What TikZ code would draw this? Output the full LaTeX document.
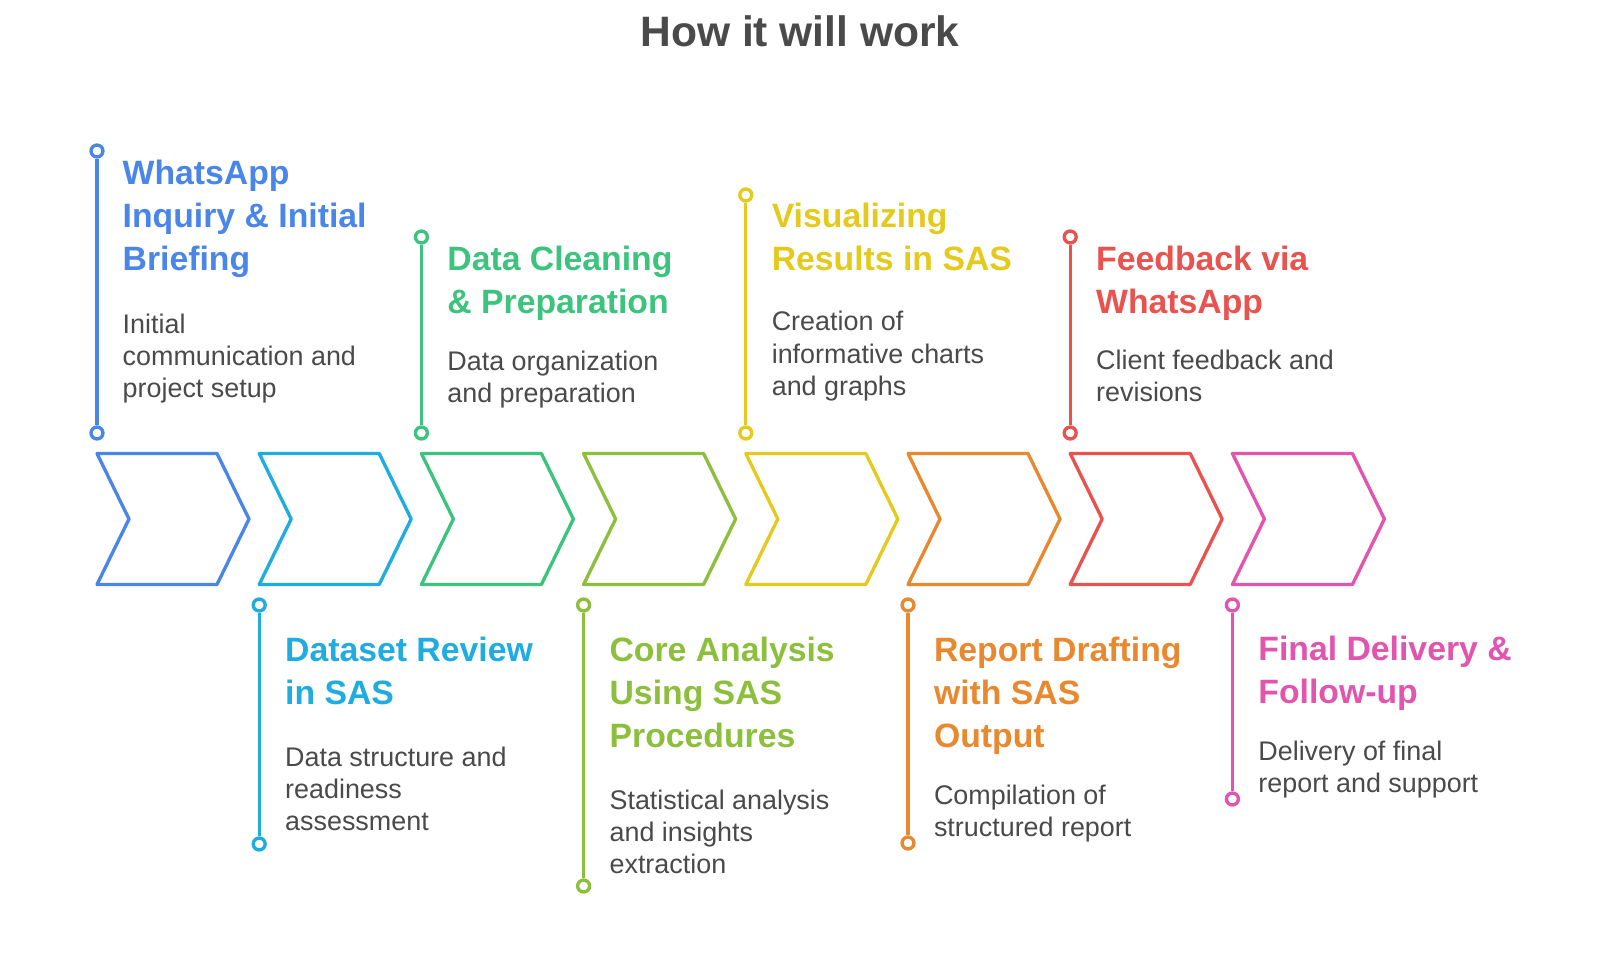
\documentclass[tikz,border=0pt]{standalone}
\usepackage{fontspec}
\setmainfont{Liberation Sans}

\definecolor{cblue}{HTML}{4A86E8}
\definecolor{ccyan}{HTML}{1FACE0}
\definecolor{cgreen}{HTML}{3CC47E}
\definecolor{clime}{HTML}{8CBF3C}
\definecolor{cyellow}{HTML}{E5CA1E}
\definecolor{corange}{HTML}{E8892F}
\definecolor{cred}{HTML}{E9534F}
\definecolor{cpink}{HTML}{E255AE}
\definecolor{textgrey}{HTML}{4A4A4A}

\tikzset{
  chevron/.style={line width=0.95pt, line join=round},
  ring/.style={circle, draw, fill=white, line width=0.95pt, minimum size=3.4pt, inner sep=0pt},
  stem/.style={line width=0.95pt},
  heading/.style={anchor=base west, align=left, inner sep=0pt, font=\fontsize{9.6}{12.2}\selectfont\bfseries},
  blurb/.style={anchor=base west, align=left, inner sep=0pt, text=textgrey, font=\fontsize{7.65}{9.1}\selectfont},
}

\begin{document}
\begin{tikzpicture}[x=0.01cm, y=-0.01cm]
\fill[white] (0,0) rectangle (1600,973);

% Title
\node[anchor=base, inner sep=0pt, text=textgrey, font=\fontsize{12.1}{14}\selectfont\bfseries] (title) at (800,47) {How it will work};

% Chevrons
\draw[chevron, cblue]   (97,453.5)   -- ++(120,0) -- ++(32,65.5) -- ++(-32,65.5) -- ++(-120,0) -- ++(32,-65.5) -- cycle;
\draw[chevron, ccyan]   (259.2,453.5) -- ++(120,0) -- ++(32,65.5) -- ++(-32,65.5) -- ++(-120,0) -- ++(32,-65.5) -- cycle;
\draw[chevron, cgreen]  (421.4,453.5) -- ++(120,0) -- ++(32,65.5) -- ++(-32,65.5) -- ++(-120,0) -- ++(32,-65.5) -- cycle;
\draw[chevron, clime]   (583.6,453.5) -- ++(120,0) -- ++(32,65.5) -- ++(-32,65.5) -- ++(-120,0) -- ++(32,-65.5) -- cycle;
\draw[chevron, cyellow] (745.8,453.5) -- ++(120,0) -- ++(32,65.5) -- ++(-32,65.5) -- ++(-120,0) -- ++(32,-65.5) -- cycle;
\draw[chevron, corange] (908,453.5)   -- ++(120,0) -- ++(32,65.5) -- ++(-32,65.5) -- ++(-120,0) -- ++(32,-65.5) -- cycle;
\draw[chevron, cred]    (1070.2,453.5) -- ++(120,0) -- ++(32,65.5) -- ++(-32,65.5) -- ++(-120,0) -- ++(32,-65.5) -- cycle;
\draw[chevron, cpink]   (1232.4,453.5) -- ++(120,0) -- ++(32,65.5) -- ++(-32,65.5) -- ++(-120,0) -- ++(32,-65.5) -- cycle;

% Stage 1 (top)
\node[ring, draw=cblue] (t1) at (97,151) {};
\node[ring, draw=cblue] (b1) at (97,433) {};
\draw[stem, cblue] (t1) -- (b1);
\node[heading, text=cblue] (h1) at (122,270) {WhatsApp\\Inquiry \& Initial\\Briefing};
\node[blurb] (d1) at (122,397) {Initial\\communication and\\project setup};

% Stage 2 (bottom)
\node[ring, draw=ccyan] (t2) at (259.2,605) {};
\node[ring, draw=ccyan] (b2) at (259.2,844) {};
\draw[stem, ccyan] (t2) -- (b2);
\node[heading, text=ccyan] (h2) at (284.5,704) {Dataset Review\\in SAS};
\node[blurb] (d2) at (284.5,830) {Data structure and\\readiness\\assessment};

% Stage 3 (top)
\node[ring, draw=cgreen] (t3) at (421.4,237) {};
\node[ring, draw=cgreen] (b3) at (421.4,433) {};
\draw[stem, cgreen] (t3) -- (b3);
\node[heading, text=cgreen] (h3) at (446.7,313) {Data Cleaning\\\& Preparation};
\node[blurb] (d3) at (446.7,402) {Data organization\\and preparation};

% Stage 4 (bottom)
\node[ring, draw=clime] (t4) at (583.6,605) {};
\node[ring, draw=clime] (b4) at (583.6,886) {};
\draw[stem, clime] (t4) -- (b4);
\node[heading, text=clime] (h4) at (608.9,747) {Core Analysis\\Using SAS\\Procedures};
\node[blurb] (d4) at (608.9,873) {Statistical analysis\\and insights\\extraction};

% Stage 5 (top)
\node[ring, draw=cyellow] (t5) at (745.8,195) {};
\node[ring, draw=cyellow] (b5) at (745.8,433) {};
\draw[stem, cyellow] (t5) -- (b5);
\node[heading, text=cyellow] (h5) at (771.1,270) {Visualizing\\Results in SAS};
\node[blurb] (d5) at (771.1,395) {Creation of\\informative charts\\and graphs};

% Stage 6 (bottom)
\node[ring, draw=corange] (t6) at (908,605) {};
\node[ring, draw=corange] (b6) at (908,843) {};
\draw[stem, corange] (t6) -- (b6);
\node[heading, text=corange] (h6) at (933.3,747) {Report Drafting\\with SAS\\Output};
\node[blurb] (d6) at (933.3,836) {Compilation of\\structured report};

% Stage 7 (top)
\node[ring, draw=cred] (t7) at (1070.2,237) {};
\node[ring, draw=cred] (b7) at (1070.2,433) {};
\draw[stem, cred] (t7) -- (b7);
\node[heading, text=cred] (h7) at (1095.5,313) {Feedback via\\WhatsApp};
\node[blurb] (d7) at (1095.5,401) {Client feedback and\\revisions};

% Stage 8 (bottom)
\node[ring, draw=cpink] (t8) at (1232.4,605) {};
\node[ring, draw=cpink] (b8) at (1232.4,799) {};
\draw[stem, cpink] (t8) -- (b8);
\node[heading, text=cpink] (h8) at (1257.7,703) {Final Delivery \&\\Follow-up};
\node[blurb] (d8) at (1257.7,792) {Delivery of final\\report and support};
\end{tikzpicture}
\end{document}
